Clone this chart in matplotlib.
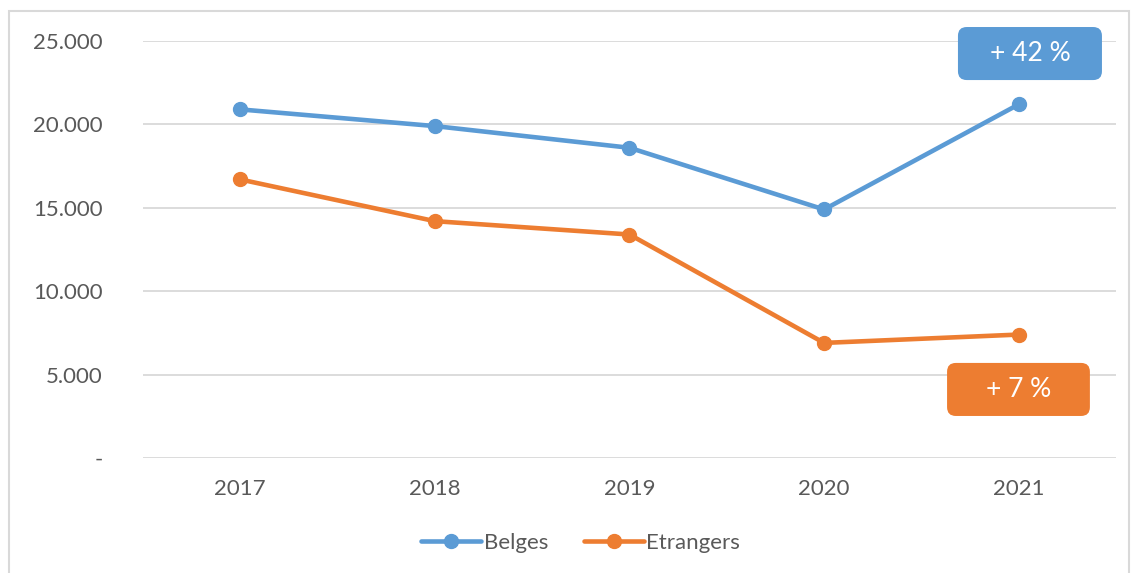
import matplotlib.pyplot as plt
from matplotlib.patches import Rectangle, FancyBboxPatch

plt.rcParams['font.family'] = ['Lato', 'DejaVu Sans']

years = ['2017', '2018', '2019', '2020', '2021']
belges = [20900, 19900, 18600, 14900, 21200]
etrangers = [16700, 14200, 13400, 6900, 7400]
yticks = [0, 5000, 10000, 15000, 20000, 25000]
ytick_labels = ['-', '5.000', '10.000', '15.000', '20.000', '25.000']
variations = ['+ 42 %', '+ 7 %']

blue = '#5B9BD5'
orange = '#ED7D31'
grey_text = '#595959'

fig = plt.figure(figsize=(11.34, 5.73), dpi=100)
# cadre gris autour du graphique
fig.patches.append(Rectangle((0.008, -0.01), 0.988, 0.99, transform=fig.transFigure,
                             fill=False, edgecolor='#D9D9D9', linewidth=1.5))
ax = fig.add_axes([0.1261, 0.2007, 0.858, 0.7277])

x = range(len(years))
ax.plot(x, belges, color=blue, lw=3.3, marker='o', ms=10, label='Belges', zorder=3,
        solid_capstyle='round')
ax.plot(x, etrangers, color=orange, lw=3.3, marker='o', ms=10, label='Etrangers', zorder=3,
        solid_capstyle='round')

ax.set_xlim(-0.5, len(years) - 0.5)
ax.set_ylim(0, 25000)
ax.set_xticks(list(x))
ax.set_xticklabels(years)
ax.set_yticks(yticks)
ax.set_yticklabels(ytick_labels)
ax.grid(axis='y', color='#D9D9D9', lw=1.3)
ax.set_axisbelow(True)
for s in ax.spines.values():
    s.set_visible(False)
ax.tick_params(axis='both', length=0, labelsize=16, labelcolor=grey_text)
ax.tick_params(axis='y', pad=29)
ax.tick_params(axis='x', pad=15)

# étiquettes de variation (boîtes arrondies)
aspect = (5000 / 83.4) * 194.6
boxes = [(3.688, 22660, 0.74, 3180, blue), (3.632, 2520, 0.734, 3180, orange)]
for (bx, by, bw, bh, c), txt in zip(boxes, variations):
    p = FancyBboxPatch((bx, by), bw, bh, boxstyle='round,pad=0,rounding_size=0.045',
                       mutation_aspect=aspect, fc=c, ec='none', clip_on=False, zorder=5)
    ax.add_patch(p)
    ax.text(bx + bw / 2, by + bh / 2, txt, color='white', fontsize=19, ha='center',
            va='center', clip_on=False, zorder=6)

fig.legend(loc='center', bbox_to_anchor=(0.512, 0.052), ncol=2, frameon=False,
           fontsize=16, labelcolor=grey_text, handlelength=2.7, handletextpad=0.1,
           columnspacing=1.6)

fig.savefig('out.png', dpi=100)
